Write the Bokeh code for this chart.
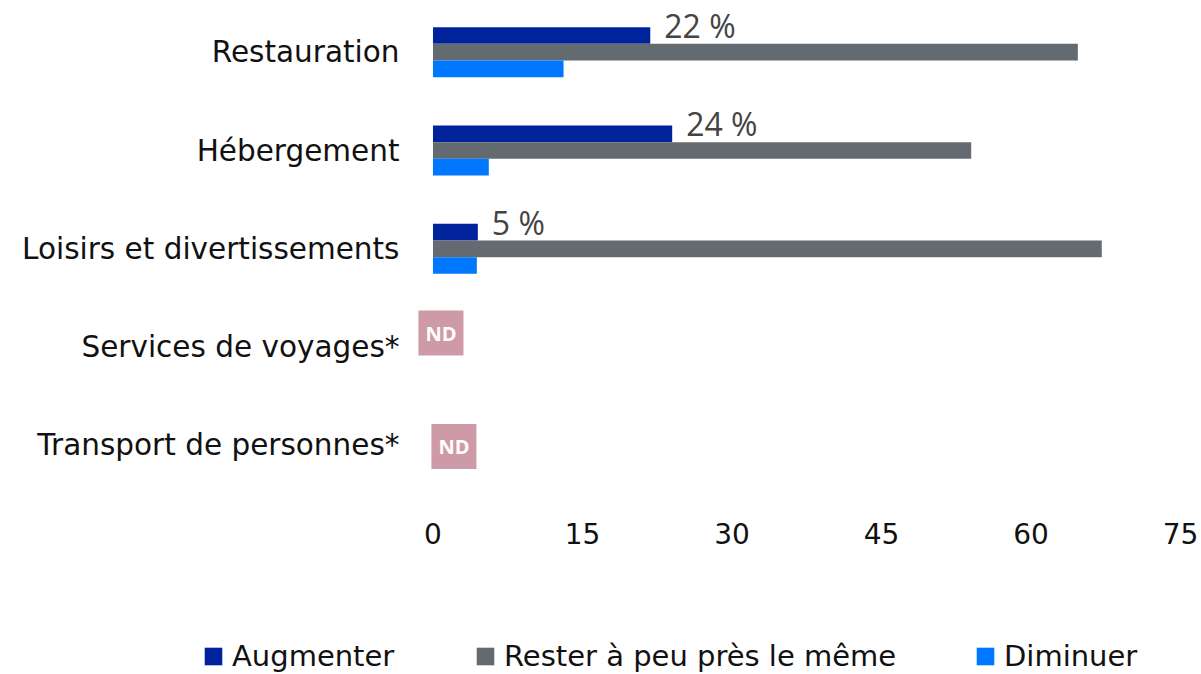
from bokeh.plotting import figure
from bokeh.layouts import column
from bokeh.models import Range1d, FixedTicker, Legend, LegendItem, ColumnDataSource
from bokeh.core.properties import value
from bokeh.embed import file_html
from bokeh.resources import INLINE

# ---------------- data ----------------
categories = ["Restauration", "Hébergement", "Loisirs et divertissements",
              "Services de voyages*", "Transport de personnes*"]
augmenter = [21.8, 24.0, 4.5, None, None]
rester = [64.7, 54.0, 67.1, None, None]
diminuer = [13.1, 5.6, 4.4, None, None]
augmenter_labels = ["22 %", "24 %", "5 %", "", ""]
nd_text = ["", "", "", "ND", "ND"]
series_names = ["Augmenter", "Rester à peu près le même", "Diminuer"]
series_colors = ["#00239c", "#636b70", "#0077ff"]
x_ticks = [0, 15, 30, 45, 60, 75]

FONT = "DejaVu Sans"
VFONT = "Open Sans"
ROW_PX = 98.3
BAR = 16.67 / ROW_PX  # bar thickness in category units

p = figure(width=1201, height=620, output_backend="svg", toolbar_location=None,
           x_range=Range1d(-2.256, 75), y_range=Range1d(4.733, -0.526),
           min_border_left=410, min_border_right=21, min_border_top=0,
           min_border_bottom=103)
p.outline_line_color = None
p.grid.visible = False

pos = list(range(len(categories)))
series = [augmenter, rester, diminuer]
offsets = [-BAR, 0.0, BAR]
for vals, col, off in zip(series, series_colors, offsets):
    ys = [i + off for i, v in zip(pos, vals) if v is not None]
    xs = [v for v in vals if v is not None]
    src = ColumnDataSource(dict(y=ys, right=xs))
    p.hbar(y="y", right="right", left=0, height=BAR, source=src,
           fill_color=col, line_color=None)

# value labels on "Augmenter"
lab_src = ColumnDataSource(dict(
    x=[v for v in augmenter if v is not None],
    y=[i - BAR for i, v in zip(pos, augmenter) if v is not None],
    t=[l for l, v in zip(augmenter_labels, augmenter) if v is not None]))
p.text(x="x", y="y", text="t", source=lab_src, x_offset=14, y_offset=-10,
       text_font=value(VFONT), text_font_size="32px", text_color="#444444",
       text_baseline="middle", text_align="left")

# ND boxes
nd_x = [0.8, 2.1]
nd_dy = [-0.143, 0.01]
nd_idx = [i for i, t in enumerate(nd_text) if t]
nd_src = ColumnDataSource(dict(
    x=nd_x, y=[i + d for i, d in zip(nd_idx, nd_dy)], t=[nd_text[i] for i in nd_idx]))
p.rect(x="x", y="y", width=45, height=45, width_units="screen", height_units="screen",
       source=nd_src, fill_color="#cf9aa7", line_color=None)
p.text(x="x", y="y", text="t", source=nd_src, text_font=value(VFONT),
       text_font_size="20px", text_font_style="bold", text_color="white",
       text_align="center", text_baseline="middle")

# axes
xa = p.xaxis[0]
xa.ticker = FixedTicker(ticks=x_ticks)
xa.axis_line_color = None
xa.major_tick_line_color = None
xa.minor_tick_line_color = None
xa.major_tick_out = 0
xa.major_label_standoff = 5
xa.major_label_text_font = FONT
xa.major_label_text_font_size = "28px"
xa.major_label_text_color = "#111111"

ya = p.yaxis[0]
ya.ticker = FixedTicker(ticks=pos)
ya.major_label_overrides = {i: c for i, c in zip(pos, categories)}
ya.axis_line_color = None
ya.major_tick_line_color = None
ya.minor_tick_line_color = None
ya.major_tick_out = 0
ya.major_label_standoff = 11
ya.major_label_text_font = FONT
ya.major_label_text_font_size = "29.5px"
ya.major_label_text_color = "#111111"

# legend strip (separate figure below the chart)
lf = figure(width=1201, height=54, output_backend="svg", toolbar_location=None,
            x_range=Range1d(0, 1), y_range=Range1d(0, 1),
            min_border_left=0, min_border_right=0, min_border_top=0, min_border_bottom=0)
if "frame_align" in lf.properties():
    lf.frame_align = False
    p.frame_align = False
lf.outline_line_color = None
lf.grid.visible = False
lf.axis.visible = False
leg_x = [202, 474, 974]
for name, col, lx in zip(series_names, series_colors, leg_x):
    # dummy bar far outside the visible range; only its legend swatch shows
    r = lf.hbar(y=[5], left=[5], right=[6], height=0.5, fill_color=col, line_color=None)
    lg = Legend(items=[LegendItem(label=name, renderers=[r])], location=(lx, 1),
                orientation="horizontal", glyph_width=22, glyph_height=22,
                label_standoff=8, padding=0, margin=0, spacing=0,
                label_text_font=FONT, label_text_font_size="29px",
                label_text_color="#111111", background_fill_alpha=0,
                border_line_color=None)
    lf.add_layout(lg, "center")

layout = column(p, lf, spacing=0)
open("out.html", "w").write(file_html(layout, INLINE))
